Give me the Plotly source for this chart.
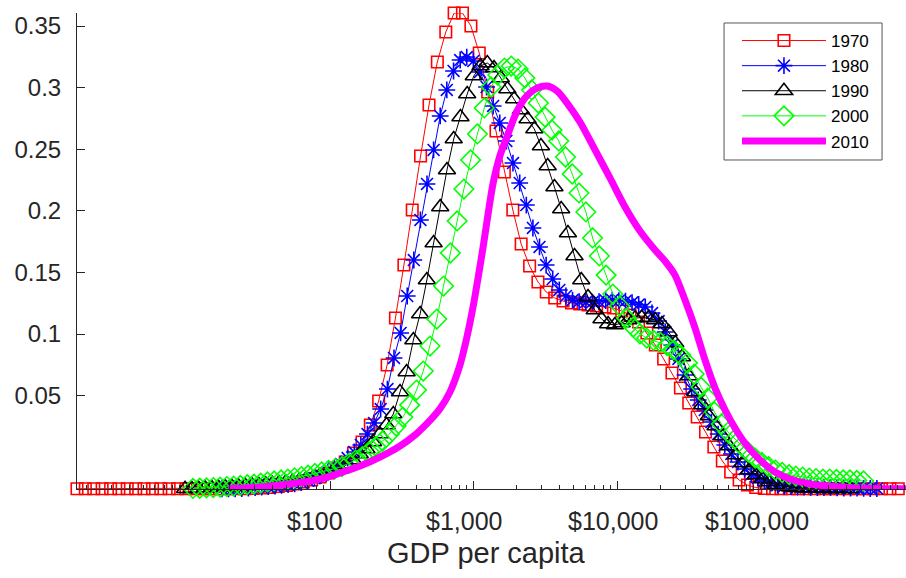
import plotly.graph_objects as go

# Kernel density of log income across countries, by year.
# x values are log10(GDP per capita in $); densities are read per grid point.

x_1970 = [0.237, 0.295, 0.354, 0.412, 0.471, 0.529, 0.587, 0.646, 0.704, 0.763,
          0.821, 0.879, 0.938, 0.996, 1.055, 1.113, 1.171, 1.230, 1.288, 1.347,
          1.405, 1.463, 1.522, 1.580, 1.639, 1.697, 1.755, 1.814, 1.872, 1.931,
          1.989, 2.047, 2.106, 2.164, 2.223, 2.281, 2.339, 2.398, 2.456, 2.515,
          2.573, 2.631, 2.690, 2.748, 2.807, 2.865, 2.923, 2.982, 3.040, 3.099,
          3.157, 3.215, 3.274, 3.332, 3.391, 3.449, 3.507, 3.566, 3.624, 3.683,
          3.741, 3.799, 3.858, 3.916, 3.975, 4.033, 4.091, 4.150, 4.208, 4.267,
          4.325, 4.383, 4.442, 4.500, 4.559, 4.617, 4.675, 4.734, 4.792, 4.851,
          4.909, 4.967, 5.026, 5.084, 5.143, 5.201, 5.259, 5.318, 5.376, 5.435,
          5.493, 5.551, 5.610, 5.668, 5.727, 5.785, 5.843, 5.902, 5.960, 6.019]
d_1970 = [-0.0255, -0.0255, -0.0255, -0.0255, -0.0255, -0.0255, -0.0255, -0.0255, -0.0255, -0.0255,
          -0.0255, -0.0255, -0.0255, -0.0255, -0.0255, -0.0255, -0.0255, -0.0255, -0.0255, -0.0255,
          -0.0255, -0.0253, -0.0249, -0.0245, -0.0237, -0.0229, -0.0217, -0.0200, -0.0184, -0.0160,
          -0.0127, -0.0087, -0.0038, 0.0035, 0.0124, 0.0262, 0.0457, 0.0749, 0.1130, 0.1560,
          0.2007, 0.2445, 0.2859, 0.3208, 0.3451, 0.3605, 0.3605, 0.3500, 0.3281, 0.2964,
          0.2648, 0.2315, 0.2007, 0.1731, 0.1552, 0.1423, 0.1341, 0.1293, 0.1268, 0.1252,
          0.1244, 0.1236, 0.1228, 0.1220, 0.1212, 0.1187, 0.1155, 0.1098, 0.1009, 0.0911,
          0.0798, 0.0684, 0.0562, 0.0441, 0.0327, 0.0205, 0.0084, -0.0030, -0.0119, -0.0184,
          -0.0225, -0.0245, -0.0253, -0.0255, -0.0255, -0.0255, -0.0255, -0.0255, -0.0255, -0.0255,
          -0.0255, -0.0255, -0.0255, -0.0255, -0.0255, -0.0255, -0.0255, -0.0255, -0.0255, -0.0255]

x_1980 = [1.247, 1.293, 1.339, 1.385, 1.431, 1.478, 1.524, 1.570, 1.616, 1.662,
          1.708, 1.754, 1.800, 1.846, 1.892, 1.939, 1.985, 2.031, 2.077, 2.123,
          2.169, 2.215, 2.261, 2.307, 2.353, 2.400, 2.446, 2.492, 2.538, 2.584,
          2.630, 2.676, 2.722, 2.768, 2.814, 2.861, 2.907, 2.953, 2.999, 3.045,
          3.091, 3.137, 3.183, 3.229, 3.275, 3.322, 3.368, 3.414, 3.460, 3.506,
          3.552, 3.598, 3.644, 3.690, 3.736, 3.783, 3.829, 3.875, 3.921, 3.967,
          4.013, 4.059, 4.105, 4.151, 4.197, 4.244, 4.290, 4.336, 4.382, 4.428,
          4.474, 4.520, 4.566, 4.612, 4.658, 4.705, 4.751, 4.797, 4.843, 4.889,
          4.935, 4.981, 5.027, 5.073, 5.119, 5.166, 5.212, 5.258, 5.304, 5.350,
          5.396, 5.442, 5.488, 5.534, 5.580, 5.627, 5.673, 5.719, 5.765, 5.811]
d_1980 = [-0.0255, -0.0255, -0.0255, -0.0253, -0.0249, -0.0246, -0.0242, -0.0238, -0.0233, -0.0228,
          -0.0222, -0.0215, -0.0205, -0.0189, -0.0169, -0.0147, -0.0119, -0.0089, -0.0054, -0.0006,
          0.0043, 0.0100, 0.0189, 0.0278, 0.0392, 0.0554, 0.0806, 0.1009, 0.1309, 0.1601,
          0.1926, 0.2218, 0.2494, 0.2770, 0.2981, 0.3135, 0.3224, 0.3248, 0.3216, 0.3127,
          0.3005, 0.2851, 0.2713, 0.2567, 0.2388, 0.2226, 0.2047, 0.1861, 0.1707, 0.1560,
          0.1447, 0.1358, 0.1309, 0.1276, 0.1264, 0.1260, 0.1260, 0.1264, 0.1272, 0.1276,
          0.1272, 0.1268, 0.1256, 0.1240, 0.1220, 0.1171, 0.1106, 0.1017, 0.0911, 0.0798,
          0.0668, 0.0554, 0.0465, 0.0384, 0.0286, 0.0189, 0.0100, 0.0027, -0.0038, -0.0095,
          -0.0140, -0.0168, -0.0192, -0.0209, -0.0225, -0.0233, -0.0237, -0.0241, -0.0241, -0.0243,
          -0.0245, -0.0245, -0.0245, -0.0247, -0.0249, -0.0249, -0.0249, -0.0252, -0.0253, -0.0253]

x_1990 = [0.990, 1.037, 1.084, 1.130, 1.177, 1.224, 1.271, 1.318, 1.364, 1.411,
          1.458, 1.505, 1.552, 1.598, 1.645, 1.692, 1.739, 1.786, 1.832, 1.879,
          1.926, 1.973, 2.020, 2.066, 2.113, 2.160, 2.207, 2.254, 2.300, 2.347,
          2.394, 2.441, 2.488, 2.534, 2.581, 2.628, 2.675, 2.722, 2.768, 2.815,
          2.862, 2.909, 2.956, 3.002, 3.049, 3.096, 3.143, 3.190, 3.236, 3.283,
          3.330, 3.377, 3.424, 3.470, 3.517, 3.564, 3.611, 3.658, 3.704, 3.751,
          3.798, 3.845, 3.892, 3.938, 3.985, 4.032, 4.079, 4.126, 4.172, 4.219,
          4.266, 4.313, 4.360, 4.406, 4.453, 4.500, 4.547, 4.594, 4.640, 4.687,
          4.734, 4.781, 4.828, 4.874, 4.921, 4.968, 5.015, 5.062, 5.108, 5.155,
          5.202, 5.249, 5.296, 5.342, 5.389, 5.436, 5.483, 5.530, 5.576, 5.623]
d_1990 = [-0.0255, -0.0255, -0.0254, -0.0252, -0.0249, -0.0247, -0.0243, -0.0241, -0.0237, -0.0233,
          -0.0229, -0.0225, -0.0220, -0.0214, -0.0209, -0.0203, -0.0196, -0.0188, -0.0179, -0.0168,
          -0.0152, -0.0136, -0.0115, -0.0091, -0.0062, -0.0022, 0.0027, 0.0067, 0.0124, 0.0189,
          0.0262, 0.0351, 0.0530, 0.0692, 0.0952, 0.1163, 0.1439, 0.1739, 0.2031, 0.2331,
          0.2583, 0.2761, 0.2948, 0.3094, 0.3175, 0.3200, 0.3159, 0.3078, 0.2989, 0.2908,
          0.2818, 0.2745, 0.2664, 0.2526, 0.2364, 0.2193, 0.2015, 0.1820, 0.1634, 0.1439,
          0.1301, 0.1195, 0.1122, 0.1082, 0.1074, 0.1090, 0.1114, 0.1130, 0.1134, 0.1130,
          0.1114, 0.1082, 0.1017, 0.0928, 0.0814, 0.0660, 0.0530, 0.0424, 0.0335, 0.0254,
          0.0173, 0.0092, 0.0019, -0.0046, -0.0103, -0.0144, -0.0176, -0.0200, -0.0221, -0.0233,
          -0.0241, -0.0247, -0.0249, -0.0252, -0.0253, -0.0254, -0.0255, -0.0255, -0.0255, -0.0255]

x_2000 = [1.045, 1.092, 1.139, 1.187, 1.234, 1.281, 1.328, 1.375, 1.423, 1.470,
          1.517, 1.564, 1.611, 1.659, 1.706, 1.753, 1.800, 1.847, 1.895, 1.942,
          1.989, 2.036, 2.083, 2.131, 2.178, 2.225, 2.272, 2.319, 2.367, 2.414,
          2.461, 2.508, 2.555, 2.603, 2.650, 2.697, 2.744, 2.791, 2.839, 2.886,
          2.933, 2.980, 3.027, 3.075, 3.122, 3.169, 3.216, 3.263, 3.311, 3.358,
          3.405, 3.452, 3.499, 3.547, 3.594, 3.641, 3.688, 3.735, 3.783, 3.830,
          3.877, 3.924, 3.971, 4.019, 4.066, 4.113, 4.160, 4.207, 4.255, 4.302,
          4.349, 4.396, 4.443, 4.491, 4.538, 4.585, 4.632, 4.679, 4.727, 4.774,
          4.821, 4.868, 4.915, 4.963, 5.010, 5.057, 5.104, 5.151, 5.199, 5.246,
          5.293, 5.340, 5.387, 5.435, 5.482, 5.529, 5.576, 5.623, 5.671, 5.718]
d_2000 = [-0.0253, -0.0251, -0.0248, -0.0245, -0.0241, -0.0237, -0.0233, -0.0228, -0.0222, -0.0217,
          -0.0209, -0.0200, -0.0192, -0.0184, -0.0176, -0.0166, -0.0156, -0.0144, -0.0131, -0.0119,
          -0.0107, -0.0091, -0.0075, -0.0050, -0.0022, 0.0006, 0.0047, 0.0088, 0.0132, 0.0189,
          0.0254, 0.0327, 0.0424, 0.0546, 0.0700, 0.0903, 0.1122, 0.1390, 0.1658, 0.1918,
          0.2177, 0.2413, 0.2624, 0.2835, 0.3005, 0.3102, 0.3159, 0.3175, 0.3151, 0.3078,
          0.2981, 0.2875, 0.2761, 0.2656, 0.2567, 0.2437, 0.2299, 0.2145, 0.1991, 0.1780,
          0.1634, 0.1479, 0.1325, 0.1228, 0.1130, 0.1057, 0.1001, 0.0968, 0.0948, 0.0932,
          0.0907, 0.0871, 0.0830, 0.0765, 0.0676, 0.0570, 0.0481, 0.0368, 0.0270, 0.0205,
          0.0149, 0.0092, 0.0043, -0.0006, -0.0042, -0.0075, -0.0103, -0.0123, -0.0140, -0.0152,
          -0.0160, -0.0168, -0.0172, -0.0176, -0.0176, -0.0180, -0.0184, -0.0184, -0.0188, -0.0192]

x_2010 = [1.289, 1.512, 1.721, 1.930, 2.070, 2.209, 2.348, 2.488, 2.592, 2.697,
          2.767, 2.836, 2.906, 2.955, 2.997, 3.031, 3.066, 3.101, 3.136, 3.185,
          3.233, 3.303, 3.373, 3.443, 3.512, 3.582, 3.652, 3.742, 3.847, 3.951,
          4.056, 4.160, 4.265, 4.334, 4.404, 4.474, 4.544, 4.613, 4.683, 4.753,
          4.822, 4.892, 4.997, 5.101, 5.206, 5.345, 5.554, 5.763, 6.014]
d_2010 = [-0.0255, -0.0241, -0.0217, -0.0176, -0.0127, -0.0071, 0.0002, 0.0092, 0.0181, 0.0300,
          0.0395, 0.0530, 0.0750, 0.0980, 0.1220, 0.1450, 0.1700, 0.1970, 0.2220, 0.2450,
          0.2600, 0.2810, 0.2935, 0.2997, 0.3013, 0.2973, 0.2875, 0.2721, 0.2494, 0.2267,
          0.2031, 0.1836, 0.1682, 0.1593, 0.1479, 0.1276, 0.1049, 0.0790, 0.0562, 0.0384,
          0.0238, 0.0116, -0.0022, -0.0119, -0.0176, -0.0217, -0.0241, -0.0253, -0.0255]

y_ticks = [0.05, 0.1, 0.15, 0.2, 0.25, 0.3, 0.35]
y_tick_text = ["0.05", "0.1", "0.15", "0.2", "0.25", "0.3", "0.35"]
x_tick_labels = ["$100", "$1,000", "$10,000", "$100,000"]
x_label_pos = [1.892, 2.934, 3.969, 4.979]   # log10 positions of the dollar labels

FONT = "Liberation Sans, Arial, Helvetica, sans-serif"
AXIS = "#262626"

series = [
    ("1970", x_1970, d_1970, "#ff0000", "square-open", 11.5),
    ("1980", x_1980, d_1980, "#0000ff", "asterisk-open", 14),
    ("1990", x_1990, d_1990, "#000000", "triangle-up-open", 15),
    ("2000", x_2000, d_2000, "#00ff00", "diamond-open", 15),
]

fig = go.Figure()
for name, xs, ys, col, sym, size in series:
    fig.add_trace(go.Scatter(
        x=[10 ** v for v in xs], y=ys, name=name, mode="lines+markers",
        line=dict(color=col, width=1),
        marker=dict(symbol=sym, size=size, color=col, line=dict(color=col, width=1.6)),
        cliponaxis=False,
    ))

fig.add_trace(go.Scatter(
    x=[10 ** v for v in x_2010], y=d_2010, name="2010", mode="lines",
    line=dict(color="#ff00ff", width=7, shape="spline", smoothing=0.8),
))

minor_vals = []
for dec in [1, 10, 100, 1000, 10000, 100000]:
    for m in range(2, 10):
        minor_vals.append(m * dec)
minor_vals += [10, 1000000]

fig.update_xaxes(
    type="log", range=[0.2369, 6.0139],
    showline=True, linecolor=AXIS, linewidth=1,
    tickvals=[100, 1000, 10000, 100000], ticks="inside", ticklen=8,
    tickcolor=AXIS, tickwidth=1, showticklabels=False,
    minor=dict(tickvals=minor_vals, ticks="inside", ticklen=4, tickcolor=AXIS, tickwidth=1, showgrid=False),
    showgrid=False, zeroline=False,
)
fig.update_yaxes(
    range=[-0.02571, 0.36055],
    showline=True, linecolor=AXIS, linewidth=1,
    tickvals=y_ticks, ticktext=y_tick_text, ticks="inside", ticklen=8,
    tickcolor=AXIS, tickwidth=1, ticklabelstandoff=10,
    tickfont=dict(family=FONT, size=24, color=AXIS),
    showgrid=False, zeroline=False,
)

for txt, pos in zip(x_tick_labels, x_label_pos):
    fig.add_annotation(x=pos, y=0, xref="x", yref="paper", text=txt, showarrow=False,
                       xanchor="center", yanchor="top", yshift=-16,
                       font=dict(family=FONT, size=25, color=AXIS))

fig.add_annotation(x=0.4934, y=0, xref="paper", yref="paper", text="GDP per capita",
                   showarrow=False, xanchor="center", yanchor="top", yshift=-46,
                   font=dict(family=FONT, size=29, color=AXIS))

# legend frame
fig.add_shape(type="rect", xref="paper", yref="paper",
              x0=0.7805, x1=0.9711, y0=0.6912, y1=0.979,
              line=dict(color="#555555", width=1), fillcolor="white", layer="above")

fig.update_layout(
    width=906, height=578,
    margin=dict(l=77, r=0, t=13, b=89),
    paper_bgcolor="white", plot_bgcolor="white",
    font=dict(family=FONT, color=AXIS),
    showlegend=True,
    legend=dict(x=0.7961, y=0.979, xanchor="left", yanchor="top",
                bgcolor="rgba(0,0,0,0)", borderwidth=0,
                font=dict(family=FONT, size=17, color="black"),
                itemwidth=84, tracegroupgap=0),
)

fig.write_html("out.html")
